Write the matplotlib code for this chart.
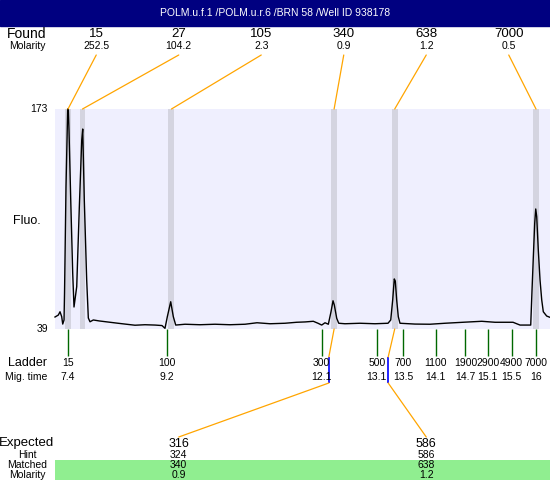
import matplotlib
matplotlib.use("Agg")
import matplotlib.pyplot as plt
from matplotlib.patches import ConnectionPatch, Rectangle
from matplotlib import transforms

plt.rcParams['font.family'] = ['Liberation Sans', 'DejaVu Sans']

title = "POLM.u.f.1 /POLM.u.r.6 /BRN 58 /Well ID 938178"

# electropherogram trace (migration time in s, fluorescence)
trace_time = [7.161, 7.222, 7.253, 7.284, 7.303, 7.327, 7.336, 7.363, 7.394, 7.406,
              7.418, 7.450, 7.486, 7.510, 7.560, 7.608, 7.652, 7.670, 7.699, 7.743,
              7.773, 7.804, 7.865, 7.975, 8.171, 8.318, 8.447, 8.630, 8.814, 8.998,
              9.126, 9.181, 9.224, 9.286, 9.334, 9.378, 9.549, 9.824, 10.100, 10.375,
              10.651, 10.871, 11.110, 11.385, 11.600, 11.753, 11.905, 11.991, 12.059, 12.120,
              12.181, 12.230, 12.267, 12.291, 12.335, 12.372, 12.487, 12.763, 13.038, 13.277,
              13.327, 13.363, 13.392, 13.411, 13.436, 13.466, 13.497, 13.773, 14.048, 14.324,
              14.654, 14.998, 15.242, 15.573, 15.701, 15.898, 15.922, 15.946, 15.971, 15.990,
              16.008, 16.037, 16.069, 16.100, 16.129, 16.191, 16.252]
trace_fluo = [46.3, 47.5, 49.5, 46.5, 42.0, 44.5, 60.9, 125.5, 173.0, 173.0,
              160.2, 117.6, 73.1, 52.4, 64.8, 113.5, 154.1, 160.8, 117.6, 68.8,
              45.7, 43.4, 44.5, 43.9, 43.1, 42.5, 42.0, 41.3, 41.6, 41.4,
              41.1, 39.4, 46.5, 55.6, 46.5, 41.4, 41.9, 41.6, 41.9, 41.6,
              41.9, 42.8, 42.2, 42.5, 43.1, 43.3, 43.7, 42.5, 41.4, 42.8,
              41.9, 49.5, 56.2, 53.6, 45.5, 42.5, 42.2, 42.5, 42.2, 42.5,
              44.5, 56.7, 69.5, 68.2, 56.7, 46.5, 42.5, 42.0, 41.9, 42.5,
              43.1, 43.7, 43.1, 43.1, 41.4, 41.4, 62.8, 83.0, 103.4, 112.1,
              107.4, 87.1, 68.8, 56.7, 49.5, 46.9, 46.1]
fluo_min, fluo_max = 39, 173

# peaks found
found_size = [15, 27, 105, 340, 638, 7000]
found_molarity = [252.5, 104.2, 2.3, 0.9, 1.2, 0.5]
found_time = [7.40, 7.666, 9.30, 12.287, 13.40, 15.995]

# ladder
ladder_size = [15, 100, 300, 500, 700, 1100, 1900, 2900, 4900, 7000]
ladder_mig = [7.4, 9.2, 12.1, 13.1, 13.5, 14.1, 14.7, 15.1, 15.5, 16]
ladder_time = [7.40, 9.22, 12.06, 13.07, 13.55, 14.15, 14.70, 15.11, 15.55, 15.99]

# expected fragments
expected_size = [316, 586]
expected_hint = [324, 586]
expected_matched = [340, 638]
expected_molarity = [0.9, 1.2]
expected_time = [12.19, 13.28]
matched_time = [12.287, 13.40]

W, H = 550, 480
fig = plt.figure(figsize=(5.5, 4.8), dpi=100)
bg = fig.add_axes([0, 0, 1, 1])
bg.set_xlim(0, W)
bg.set_ylim(H, 0)
bg.axis('off')

ax = fig.add_axes([55 / W, (H - 329) / H, 495 / W, 220 / H])
ax.set_facecolor('#efeffe')
for s in ax.spines.values():
    s.set_visible(False)
ax.set_xticks([])
ax.set_yticks([])
ax.set_xlim(7.161, 16.252)
ax.set_ylim(fluo_min, fluo_max)

for t in found_time:
    ax.axvspan(t - 0.055, t + 0.055, color='#d4d4e0', lw=0)
ax.plot(trace_time, trace_fluo, color='black', lw=1.0, clip_on=False)

# x in data, y in pixels
xb = transforms.blended_transform_factory(ax.transData, bg.transData)
yb = transforms.blended_transform_factory(bg.transData, ax.transData)

# title bar
bg.add_patch(Rectangle((0, 0), W, 26, color='#000080'))
bg.text(W / 2, 13, title, color='white', ha='center', va='center', fontsize=7.5)

# found row
bg.text(27, 34, "Found", ha='center', va='center', fontsize=10)
bg.text(27, 46, "Molarity", ha='center', va='center', fontsize=7.5)
n = len(found_size)
for i in range(n):
    cx = 55 + 495 * (i + 0.5) / n
    bg.text(cx, 34, str(found_size[i]), ha='center', va='center', fontsize=9.5)
    bg.text(cx, 46, str(found_molarity[i]), ha='center', va='center', fontsize=7.5)
    con = ConnectionPatch(xyA=(cx, 55), coordsA=bg.transData,
                          xyB=(found_time[i], fluo_max), coordsB=ax.transData,
                          color='orange', lw=0.9)
    fig.add_artist(con)

# y axis labels
bg.text(48, fluo_max, str(fluo_max), transform=yb, ha='right', va='center', fontsize=7.5)
bg.text(48, fluo_min, str(fluo_min), transform=yb, ha='right', va='center', fontsize=7.5)
bg.text(27, 221, "Fluo.", ha='center', va='center', fontsize=9)

# ladder
bg.vlines(ladder_time, 329, 356, transform=xb, colors='#006800', lw=1)
bg.text(47, 363, "Ladder", ha='right', va='center', fontsize=9)
bg.text(47, 377, "Mig. time", ha='right', va='center', fontsize=7.5)
for t, s, m in zip(ladder_time, ladder_size, ladder_mig):
    bg.text(t, 363, str(s), transform=xb, ha='center', va='center', fontsize=7.5)
    bg.text(t, 377, f"{m:g}", transform=xb, ha='center', va='center', fontsize=7.5)

# expected
bg.add_patch(Rectangle((55, 459.5), 495, 20.5, color='#90ee90', lw=0))
bg.text(27, 443, "Expected", ha='center', va='center', fontsize=9.5)
bg.text(27, 455, "Hint", ha='center', va='center', fontsize=7.5)
bg.text(27, 465, "Matched", ha='center', va='center', fontsize=7.5)
bg.text(27, 474.5, "Molarity", ha='center', va='center', fontsize=7.5)
m = len(expected_size)
bg.vlines(expected_time, 357, 383, transform=xb, colors='blue', lw=1.2)
for j in range(m):
    cx = 55 + 495 * (j + 0.5) / m
    bg.text(cx, 444, str(expected_size[j]), ha='center', va='center', fontsize=9)
    bg.text(cx, 455, str(expected_hint[j]), ha='center', va='center', fontsize=7.5)
    bg.text(cx, 465, str(expected_matched[j]), ha='center', va='center', fontsize=7.5)
    bg.text(cx, 474.5, str(expected_molarity[j]), ha='center', va='center', fontsize=7.5)
    c1 = ConnectionPatch(xyA=(matched_time[j], fluo_min), coordsA=ax.transData,
                         xyB=(expected_time[j], 357), coordsB=xb,
                         color='orange', lw=0.9)
    c2 = ConnectionPatch(xyA=(expected_time[j], 383), coordsA=xb,
                         xyB=(cx, 437), coordsB=bg.transData,
                         color='orange', lw=0.9)
    fig.add_artist(c1)
    fig.add_artist(c2)

fig.savefig("out.png", dpi=100)
